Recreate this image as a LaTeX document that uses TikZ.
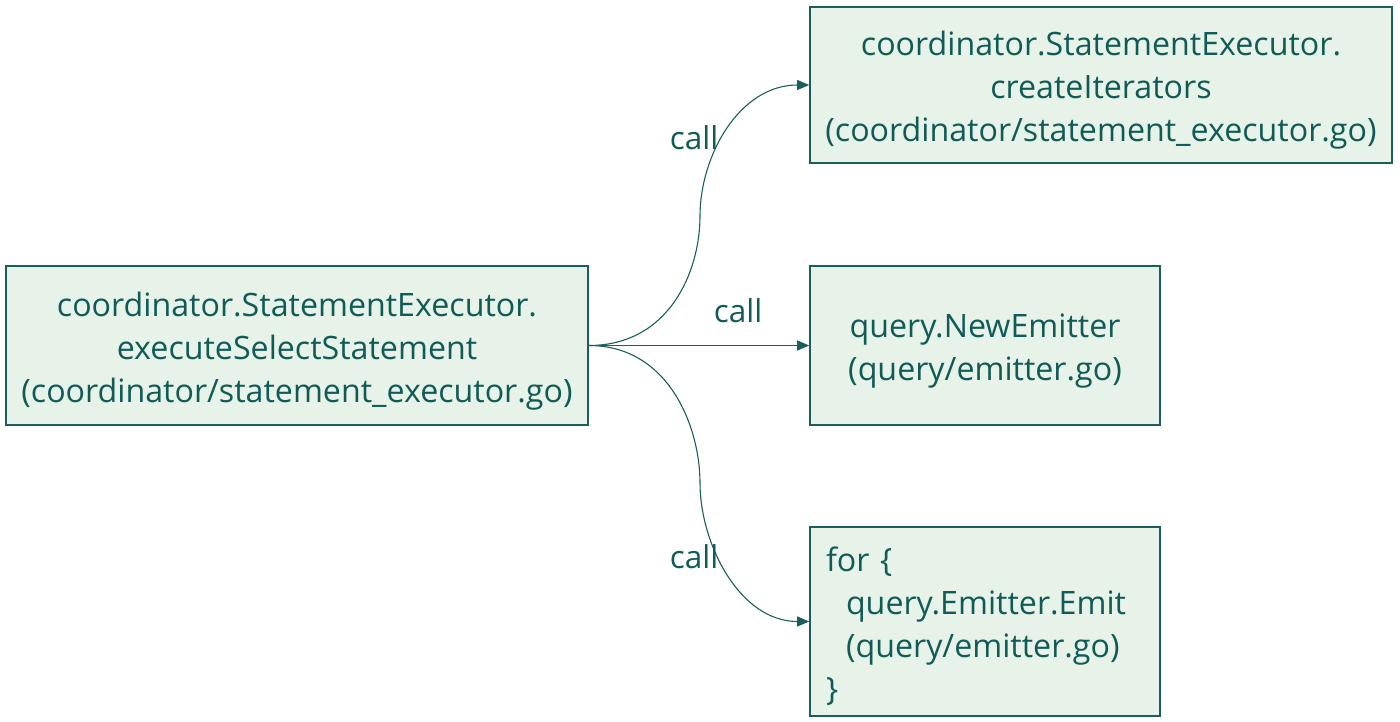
\documentclass[tikz,border=0pt]{standalone}
\usepackage{fontspec}
\setmainfont{Open Sans}
\usetikzlibrary{arrows.meta}
\definecolor{boxfill}{HTML}{E7F3E9}
\definecolor{ink}{HTML}{115B57}
\definecolor{edge}{HTML}{1B5E5C}
\newcommand{\topgap}{\raisebox{12pt}{\vphantom{(}}}
\tikzset{
  box/.style={draw=edge, fill=boxfill, line width=1.6pt, inner sep=0pt, text=ink,
    font=\fontsize{32.2}{43}\selectfont, align=center},
  conn/.style={draw=edge, line width=1.1pt, -{Triangle[length=12pt,width=10pt]}},
  lbl/.style={text=ink, font=\fontsize{31.5}{35}\selectfont, inner sep=0pt}
}
\begin{document}
\begin{tikzpicture}[x=1pt,y=-1pt]
\useasboundingbox (0,0) rectangle (1400,721);
\node[box, minimum width=582pt, minimum height=159pt] (L) at (297,345.5)
  {\topgap coordinator.StatementExecutor.\\executeSelectStatement\\(coordinator/statement\_executor.go)};
\node[box, minimum width=582pt, minimum height=156pt] (T) at (1101,85)
  {\topgap coordinator.StatementExecutor.\\createIterators\\(coordinator/statement\_executor.go)};
\node[box, minimum width=350pt, minimum height=159pt] (M) at (985,345.5)
  {\topgap query.NewEmitter\\(query/emitter.go)};
\node[box, minimum height=189pt, text width=318pt, inner xsep=16pt, align=left] (B) at (985,621.5)
  {\topgap for \{\\\hspace*{20pt}query.Emitter.Emit\\\hspace*{20pt}(query/emitter.go)\\\}};
\coordinate (m1) at (700,216);
\coordinate (m3) at (700,483);
\draw[conn] (L.east) .. controls +(80,0) and +(0,56) .. (m1) .. controls +(0,-60) and +(-70,0) .. (T.west);
\draw[conn] (L.east) -- (M.west);
\draw[conn] (L.east) .. controls +(80,0) and +(0,-56) .. (m3) .. controls +(0,60) and +(-70,0) .. (B.west);
\node[lbl] (c1) at (694,138) {call};
\node[lbl] (c2) at (738,311) {call};
\node[lbl] (c3) at (694,557) {call};
\end{tikzpicture}
\end{document}
